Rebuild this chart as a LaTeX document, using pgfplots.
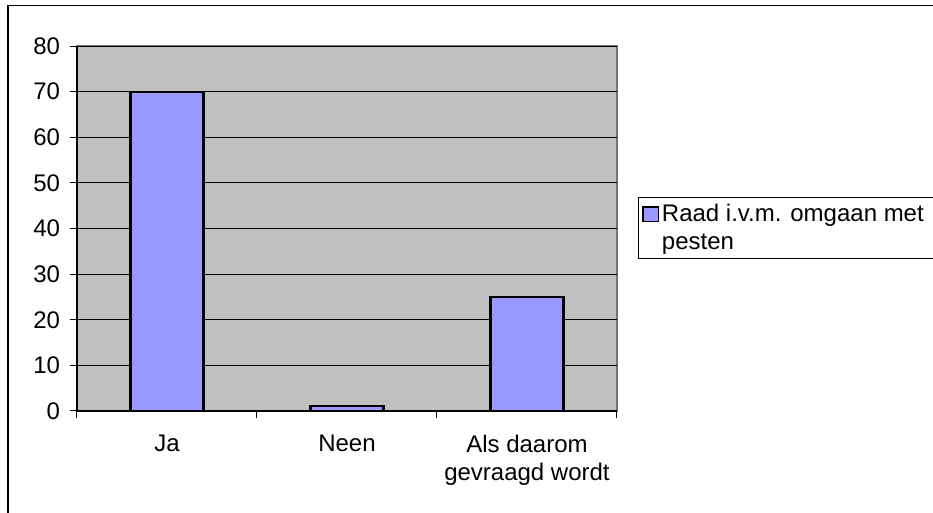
\documentclass[border=0pt]{standalone}
\usepackage{pgfplots}
\pgfplotsset{compat=1.18}
\usepackage{fontspec}
\setmainfont{Liberation Sans}
\definecolor{plotgray}{HTML}{C0C0C0}
\definecolor{barblue}{HTML}{9999FF}
\newcommand{\chartfont}{\fontsize{18}{21}\selectfont}

\begin{document}
\begin{tikzpicture}[x=0.75pt,y=0.75pt]
\useasboundingbox (0,0) rectangle (933,513);
\clip (0,0) rectangle (933,513);
\fill[white] (0,0) rectangle (933,513);
\draw[line width=1.4pt] (8,-5) -- (8,507.5) -- (945,507.5);
\begin{axis}[
  at={(57.75pt,76.5pt)}, anchor=south west,
  scale only axis, width=405pt, height=273.75pt,
  xmin=-0.5, xmax=2.5, ymin=0, ymax=80,
  axis x line*=bottom, axis y line*=left,
  axis line style={black, line width=0.9pt, -},
  axis background/.style={fill=plotgray, draw=gray!90!black, line width=1.4pt},
  xtick={0,1,2},
  xticklabels={Ja,Neen,{Als daarom\\gevraagd wordt}},
  major x tick style={draw=none},
  minor xtick={-0.5,0.5,1.5,2.5},
  minor x tick style={black, line width=0.75pt},
  minor tick length=5.25pt,
  ytick={0,10,...,80},
  major tick length=5.25pt,
  tick align=outside,
  y tick style={black, line width=0.75pt},
  ymajorgrids,
  grid style={black, line width=0.75pt},
  xticklabel style={font=\chartfont, align=center, yshift=-9pt, anchor=north},
  yticklabel style={font=\chartfont, xshift=-4pt},
  /pgf/number format/assume math mode=true,
  legend style={at={(1.039,0.586)}, anchor=north west, draw=black, line width=0.6pt,
    font=\chartfont, inner xsep=3pt, inner ysep=3pt,
    cells={align=left, anchor=base west}},
  legend image code/.code={\draw[#1, line width=1.1pt] (1.5pt,21pt) rectangle (13pt,32pt);},
]
\addplot[ybar, bar width=0.405, fill=barblue, draw=black, line width=1.6pt]
  coordinates {(0,70) (1,1) (2,25)};
\addlegendentry{Raad i.v.m. omgaan met\hspace*{12pt}\\pesten}
\end{axis}
\end{tikzpicture}
\end{document}
